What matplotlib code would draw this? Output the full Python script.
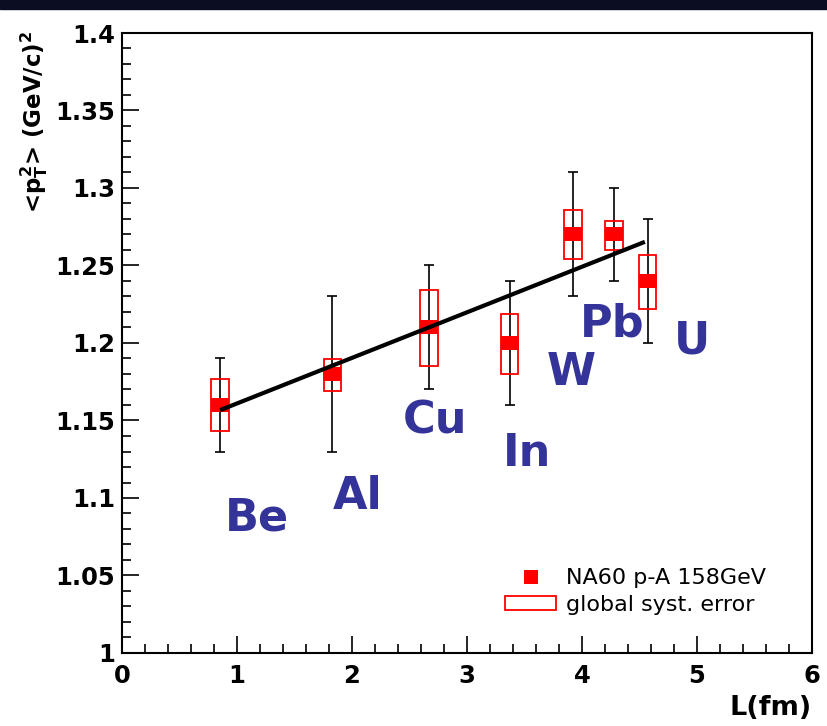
import matplotlib
matplotlib.use("Agg")
import matplotlib.pyplot as plt
import numpy as np
from matplotlib.patches import Rectangle
from matplotlib.lines import Line2D
from matplotlib.ticker import MultipleLocator

# ---- data ----
elements = ["Be", "Al", "Cu", "In", "W", "Pb", "U"]
L_fm = [0.85, 1.83, 2.67, 3.37, 3.92, 4.28, 4.57]
pt2 = [1.160, 1.180, 1.210, 1.200, 1.270, 1.270, 1.240]
stat_lo = [1.130, 1.130, 1.170, 1.160, 1.230, 1.240, 1.200]
stat_hi = [1.190, 1.230, 1.250, 1.240, 1.310, 1.300, 1.280]
syst_lo = [1.143, 1.169, 1.185, 1.180, 1.254, 1.260, 1.222]
syst_hi = [1.177, 1.190, 1.234, 1.219, 1.286, 1.279, 1.257]
fit_intercept = 1.1316
fit_slope = 0.0294
label_x = [1.17, 2.05, 2.72, 3.52, 3.91, 4.26, 4.96]
label_y = [1.087, 1.101, 1.150, 1.129, 1.181, 1.212, 1.201]
xticks = [0, 1, 2, 3, 4, 5, 6]
yticks = [1, 1.05, 1.1, 1.15, 1.2, 1.25, 1.3, 1.35, 1.4]
ytick_labels = ["1", "1.05", "1.1", "1.15", "1.2", "1.25", "1.3", "1.35", "1.4"]

plt.rcParams["mathtext.fontset"] = "custom"
plt.rcParams["mathtext.rm"] = "DejaVu Sans:bold"
plt.rcParams["mathtext.it"] = "DejaVu Sans:bold"
plt.rcParams["mathtext.bf"] = "DejaVu Sans:bold"

fig = plt.figure(figsize=(8.27, 7.26), dpi=100)
fig.patches.append(Rectangle((0, 1 - 9 / 726), 1, 9 / 726, transform=fig.transFigure,
                             color="#0b0d22", zorder=0))
ax = fig.add_axes([122 / 827, (726 - 653) / 726, (812 - 122) / 827, (653 - 33) / 726])

ax.set_xlim(0, 6)
ax.set_ylim(1.0, 1.4)

# stat error bars
pt2_a = np.array(pt2)
yerr = [pt2_a - np.array(stat_lo), np.array(stat_hi) - pt2_a]
ax.errorbar(L_fm, pt2, yerr=yerr, fmt="none", ecolor="black", elinewidth=1.2,
            capsize=3.5, capthick=1.2, zorder=2)

# systematic boxes
bw = 0.155
for x, lo, hi in zip(L_fm, syst_lo, syst_hi):
    ax.add_patch(Rectangle((x - bw / 2, lo), bw, hi - lo, facecolor="none",
                           edgecolor="red", lw=1.3, zorder=3))

# markers (slightly wide rectangles)
rect_marker = [(-1.3, -1), (1.3, -1), (1.3, 1), (-1.3, 1), (-1.3, -1)]
ax.plot(L_fm, pt2, linestyle="none", marker=rect_marker, markersize=12.5,
        color="red", markeredgewidth=0, zorder=4)

# linear fit
xf = np.array([min(L_fm) + 0.02, max(L_fm) - 0.04])
ax.plot(xf, fit_intercept + fit_slope * xf, color="black", lw=3, zorder=5)

# element labels
for name, x, y in zip(elements, label_x, label_y):
    ax.text(x, y, name, color="#333399", fontsize=32, fontweight="bold",
            family="DejaVu Sans", ha="center", va="center", zorder=6)

# axes styling
ax.set_xticks(xticks)
ax.set_yticks(yticks)
ax.set_yticklabels(ytick_labels)
ax.xaxis.set_minor_locator(MultipleLocator(0.2))
ax.yaxis.set_minor_locator(MultipleLocator(0.01))
ax.tick_params(which="both", direction="in", top=False, right=False, width=1.2, color="black")
ax.tick_params(which="major", length=12)
ax.tick_params(which="minor", length=6.5)
ax.tick_params(axis="x", which="major", pad=8)
ax.tick_params(axis="y", which="major", pad=5)
for lab in ax.get_xticklabels() + ax.get_yticklabels():
    lab.set_family("DejaVu Sans")
    lab.set_fontweight("bold")
    lab.set_fontsize(17.5)
for s in ax.spines.values():
    s.set_linewidth(1.5)

ax.set_ylabel(r"<$p^{2}_{T}$> (GeV/c)$^{2}$", fontsize=16.5, fontweight="bold",
              family="DejaVu Sans")
ax.yaxis.set_label_coords(-0.104, 0.856)
ax.set_xlabel("L(fm)", fontsize=19.5, fontweight="bold", family="DejaVu Sans",
              ha="right")
ax.xaxis.set_label_coords(1.0, -0.067)

# legend
h1 = Line2D([], [], linestyle="none", marker="s", markersize=10, color="red",
            markeredgewidth=0)
h2 = Rectangle((0, 0), 1, 1, facecolor="none", edgecolor="red", lw=1.3)
leg = ax.legend([h1, h2], ["NA60 p-A 158GeV", "global syst. error"],
                loc="upper left", bbox_to_anchor=(0.555, 0.137), frameon=False,
                prop={"family": "DejaVu Sans", "size": 16},
                handlelength=2.3, handleheight=0.58, handletextpad=0.45,
                labelspacing=0.3, borderpad=0, borderaxespad=0)

fig.savefig("out.png", dpi=100, facecolor="white")
